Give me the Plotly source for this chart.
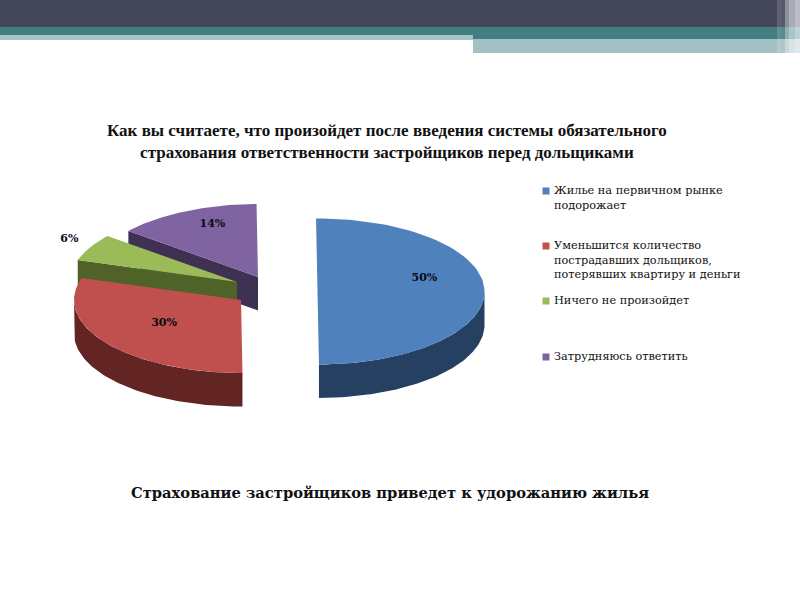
import numpy as np
import plotly.graph_objects as go

categories = ["Жилье на первичном рынке<br>подорожает",
              "Уменьшится количество<br>пострадавших дольщиков,<br>потерявших квартиру и деньги",
              "Ничего не произойдет",
              "Затрудняюсь ответить"]
values = [50, 30, 6, 14]
top_colors = ["#4f81bd", "#c0504d", "#9bbb59", "#8064a2"]
side_colors = ["#254061", "#632523", "#4f6228", "#3f3151"]
title_text = "Как вы считаете, что произойдет после введения системы обязательного<br>страхования ответственности застройщиков перед дольщиками"
footer_text = "Страхование застройщиков приведет к удорожанию жилья"

# Layout constants of the tilted pie (pixel axes)
apex = [(317.5, 291.5), (241, 300), (237, 282), (258, 277)]
RX, RY, DEPTH = 167, 73, 33.5
START = -0.5
label_radius = [0.64, 0.573, 1.14, 0.63]
label_dy = [-13, -2, -3, -11]
ser_font = "Liberation Serif"
wide_font = "DejaVu Serif"


def rim(cx, cy, a0, a1):
    t = np.radians(np.linspace(a0, a1, 80))
    return cx + RX * np.sin(t), cy - RY * np.cos(t)


fig = go.Figure()
angles = START + np.cumsum([0] + values) * 3.6
for i in [3, 2, 1, 0]:  # back to front
    cx, cy = apex[i]
    a0, a1 = angles[i], angles[i + 1]
    xs, ys = rim(cx, cy, a0, a1)
    if i in (2, 3):  # radial wall facing the viewer
        wx = [cx, xs[0], xs[0], cx]
        wy = [cy, ys[0], ys[0] + DEPTH, cy + DEPTH]
    else:  # outer curved wall: only the front half of the rim shows
        fx, fy = rim(cx, cy, max(a0, 90), min(a1, 270))
        wx = np.concatenate([fx, fx[::-1]])
        wy = np.concatenate([fy, fy[::-1] + DEPTH])
    fig.add_trace(go.Scatter(x=wx, y=wy, fill="toself", mode="lines",
                             line=dict(width=0), fillcolor=side_colors[i], hoverinfo="skip"))
    fig.add_trace(go.Scatter(x=np.concatenate([[cx], xs, [cx]]),
                             y=np.concatenate([[cy], ys, [cy]]),
                             fill="toself", mode="lines", line=dict(width=0),
                             fillcolor=top_colors[i], hoverinfo="skip"))

for i in [3, 2, 1, 0]:
    cx, cy = apex[i]
    mid = np.radians((angles[i] + angles[i + 1]) / 2)
    lr = label_radius[i]
    fig.add_trace(go.Scatter(x=[cx + lr * RX * np.sin(mid)],
                             y=[cy - lr * RY * np.cos(mid) + label_dy[i]],
                             mode="text", text=[f"<b>{values[i]}%</b>"],
                             textfont=dict(family=wide_font, size=11, color="#0a0a14"),
                             hoverinfo="skip"))

# legend
legend_y = [191, 246, 301, 357]
fig.add_trace(go.Scatter(x=[546] * 4, y=legend_y, mode="markers",
                         marker=dict(symbol="square", size=7, color=top_colors), hoverinfo="skip"))
for cat, y in zip(categories, legend_y):
    fig.add_annotation(x=552, y=y - 9, text=cat, showarrow=False, xanchor="left", yanchor="top",
                       align="left", font=dict(family=wide_font, size=11.3, color="#111111"))

fig.add_annotation(x=386.5, y=141.5, text="<b>" + title_text + "</b>", showarrow=False,
                   font=dict(family=ser_font, size=17, color="#111111"), align="center")
fig.add_annotation(x=390, y=492, text="<b>" + footer_text + "</b>", showarrow=False,
                   font=dict(family=wide_font, size=14.7, color="#111111"))

# slide header bands
bands = [
    (0, 0, 800, 27, "#44465a", 1),
    (0, 27, 800, 39, "#437e83", 1),
    (0, 35, 473, 40, "#a8c3c6", 1),
    (473, 39, 800, 53, "#a3c0c5", 1),
    (777, 0, 781, 53, "#ffffff", 0.15),
    (781, 0, 785, 53, "#ffffff", 0.1),
    (785, 0, 789, 53, "#ffffff", 0.4),
    (789, 0, 795, 53, "#ffffff", 0.55),
    (795, 0, 800, 53, "#ffffff", 0.65),
]
shapes = [dict(type="rect", xref="x", yref="y", x0=a, y0=b, x1=c, y1=d, fillcolor=col,
               opacity=op, line=dict(width=0), layer="above") for a, b, c, d, col, op in bands]

fig.update_layout(width=800, height=600, margin=dict(l=0, r=0, t=0, b=0), showlegend=False,
                  paper_bgcolor="white", plot_bgcolor="white", shapes=shapes,
                  xaxis=dict(range=[0, 800], visible=False, fixedrange=True),
                  yaxis=dict(range=[600, 0], visible=False, fixedrange=True))
fig.write_html("out.html", config=dict(displayModeBar=False),
               post_script="document.body.style.margin='0';document.documentElement.style.overflow='hidden';")
